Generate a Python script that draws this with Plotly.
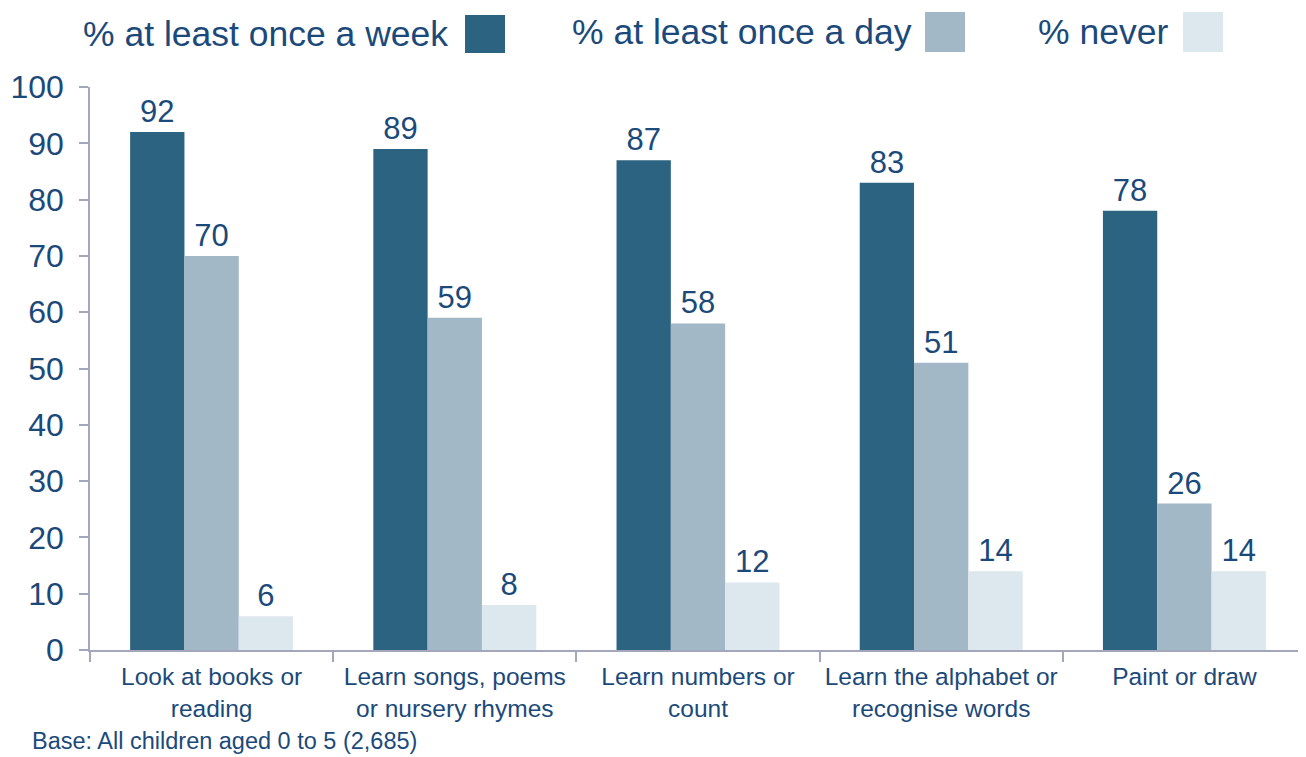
import plotly.graph_objects as go

categories = ["Look at books or<br>reading", "Learn songs, poems<br>or nursery rhymes",
              "Learn numbers or<br>count", "Learn the alphabet or<br>recognise words", "Paint or draw"]
series_names = ["% at least once a week", "% at least once a day", "% never"]
week = [92, 89, 87, 83, 78]
day = [70, 59, 58, 51, 26]
never = [6, 8, 12, 14, 14]
y_ticks = [0, 10, 20, 30, 40, 50, 60, 70, 80, 90, 100]

colors = ["#2B6381", "#A3B8C7", "#DCE7EE"]
text_color = "#1B4A7A"
axis_color = "#A4A7BC"
font_family = "Liberation Sans, Arial, sans-serif"

# page has an 8px body margin, so the figure is 8px smaller than the window
PLOT_W = 1216
PLOT_H = 563

fig = go.Figure()
for name, vals, col in zip(series_names, [week, day, never], colors):
    fig.add_trace(go.Bar(
        x=categories, y=vals, name=name, marker=dict(color=col, line=dict(width=0)),
        text=[str(v) for v in vals], textposition="outside", cliponaxis=False,
        textfont=dict(size=31, color=text_color, family=font_family),
    ))

fig.update_layout(
    width=1298, height=749,
    margin=dict(l=82, r=0, t=79, b=107, autoexpand=False),
    paper_bgcolor="white", plot_bgcolor="white",
    barmode="group", bargap=0.33, bargroupgap=0,
    showlegend=False,
    font=dict(family=font_family, color=text_color),
)
fig.update_yaxes(
    range=[0, 100], tickvals=y_ticks, showgrid=False, zeroline=False,
    showline=True, linecolor=axis_color, linewidth=1.5,
    ticks="outside", ticklen=9, tickcolor=axis_color, tickwidth=1.5,
    ticklabelstandoff=9,
    tickfont=dict(size=32, color=text_color, family=font_family),
    automargin=False,
)
fig.update_xaxes(
    showgrid=False, showline=True, linecolor=axis_color, linewidth=2,
    ticks="outside", tickson="boundaries", ticklen=10, tickcolor=axis_color, tickwidth=1.5,
    ticklabelstandoff=4,
    tickfont=dict(size=24.5, color=text_color, family=font_family),
    automargin=False,
)

# custom legend: text followed by a swatch on its right (page-pixel positions)
legend_items = [(450, 465, 15, 53), (914, 925, 12, 52), (1170, 1183, 12, 52)]
for (name, col, (tx, sx, y0, y1)) in zip(series_names, colors, legend_items):
    fig.add_annotation(
        xref="paper", yref="paper",
        x=(tx - 90) / PLOT_W, y=1 + (87 - (y0 + y1) / 2) / PLOT_H,
        xanchor="right", yanchor="middle", showarrow=False,
        text=name, font=dict(size=35.5, color=text_color, family=font_family),
    )
    fig.add_shape(
        type="rect", xref="paper", yref="paper",
        x0=(sx - 90) / PLOT_W, x1=(sx + 40 - 90) / PLOT_W,
        y0=1 + (87 - y1) / PLOT_H, y1=1 + (87 - y0) / PLOT_H,
        fillcolor=col, line=dict(width=0),
    )

fig.add_annotation(
    xref="paper", yref="paper", x=(30 - 90) / PLOT_W, y=(650 - 741) / PLOT_H,
    xanchor="left", yanchor="middle", showarrow=False,
    text="Base: All children aged 0 to 5 (2,685)",
    font=dict(size=23.5, color=text_color, family=font_family),
)

fig.write_html("out.html")
